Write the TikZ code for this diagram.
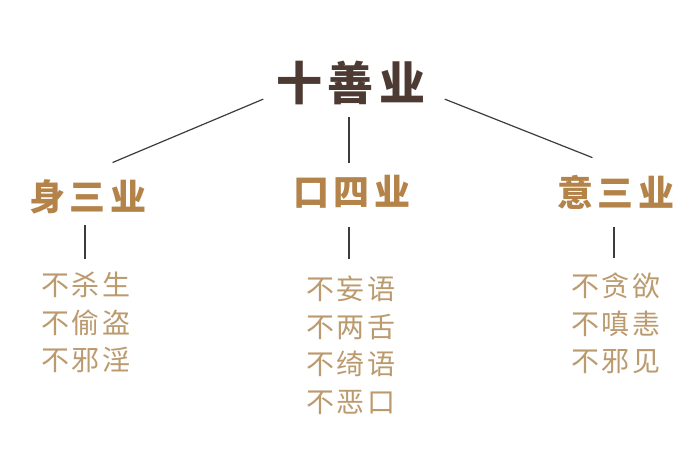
\documentclass[tikz,border=0pt]{standalone}
\usepackage{fontspec}
\usepackage{tikz}
\newfontfamily\cjkwide[LetterSpace=12]{Noto Sans CJK SC}
\newfontfamily\cjkitem[LetterSpace=10]{Noto Sans CJK SC}
\definecolor{titelbraun}{HTML}{4D3B33}
\definecolor{astgold}{HTML}{B3834A}
\definecolor{listgold}{HTML}{BB9A6E}
\definecolor{linie}{HTML}{3C3C3C}
\begin{document}
\begin{tikzpicture}
	[
	x=1pt, y=-1pt,
	titel/.style={inner sep=0pt, text=titelbraun, font=\cjkwide\bfseries\fontsize{46}{46}\selectfont},
	ast/.style={inner sep=0pt, text=astgold, font=\cjkwide\bfseries\fontsize{36}{36}\selectfont},
	liste/.style={inner sep=0pt, anchor=north, align=center, text=listgold, font=\cjkitem\fontsize{28}{37.5}\selectfont},
	verb/.style={draw=linie, line width=1.2pt}
	]
	%Rahmen
	\useasboundingbox (0,0) rectangle (700,470);
	\node[titel] (top) at (351,83) {十善业};
	\node[ast] (shen) at (88,197) {身三业};
	\node[ast] (kou) at (352,192) {口四业};
	\node[ast] (yi) at (616,192) {意三业};
	%Listen
	\node[liste] (shenlist) at (86,272) {不杀生\\不偷盗\\不邪淫};
	\node[liste] (koulist) at (351,276) {不妄语\\不两舌\\不绮语\\不恶口};
	\node[liste] (yilist) at (616,273) {不贪欲\\不嗔恚\\不邪见};
	%Verbindungen
	\coordinate (mitte) at (kou.north |- top.south);
	\draw[verb] ([xshift=-13pt, yshift=6pt]top.south west) -- ([xshift=-34pt, yshift=17pt]shen.north east);
	\draw[verb] ([xshift=-3pt, yshift=-12pt]mitte) -- ([xshift=-3pt, yshift=12pt]kou.north);
	\draw[verb] ([xshift=19pt, yshift=6pt]top.south east) -- ([xshift=35pt, yshift=17pt]yi.north west);
	\draw[verb] ([xshift=-3pt, yshift=-11pt]shen.south) -- ([xshift=-1pt, yshift=13pt]shenlist.north);
	\draw[verb] ([xshift=-3pt, yshift=-18pt]kou.south) -- ([xshift=-2pt, yshift=17pt]koulist.north);
	\draw[verb] ([xshift=-2pt, yshift=-18pt]yi.south) -- ([xshift=-2pt, yshift=15pt]yilist.north);
\end{tikzpicture}
\end{document}
